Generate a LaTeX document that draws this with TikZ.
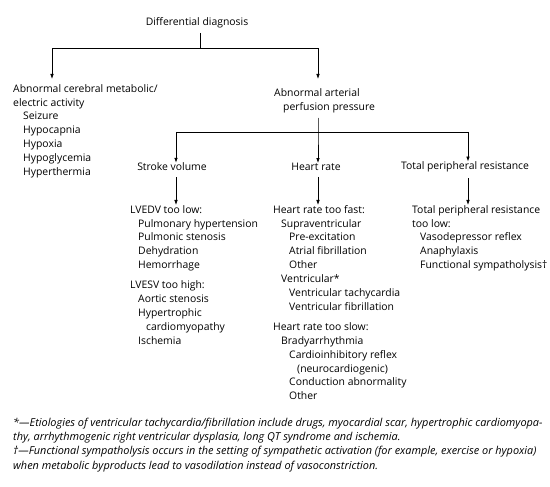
\documentclass[tikz,border=0pt]{standalone}
\usepackage{fontspec}
\setmainfont{Open Sans}
\usetikzlibrary{arrows.meta}
\begin{document}
\begin{tikzpicture}[x=1pt,y=-1pt,
  txt/.style={inner sep=0pt, align=left, anchor=north west, font=\fontsize{10.4}{13.9}\selectfont},
  ctr/.style={inner sep=0pt, anchor=center, font=\fontsize{10.4}{13.9}\selectfont},
  ln/.style={line width=0.8pt},
  arr/.style={line width=0.8pt, -{Latex[length=5pt,width=3.6pt]}},
  fnote/.style={inner sep=0pt, align=left, anchor=north west, font=\fontsize{10.9}{14.2}\selectfont\itshape}]
\useasboundingbox (0,0) rectangle (550,487);
% top
\node[ctr] (dd) at (197,23) {Differential diagnosis};
\coordinate (j1) at (200,48);
\coordinate (a1) at (52,48);
\coordinate (a2) at (318,48);
\node[txt] (cer) at (13,84) {Abnormal cerebral metabolic/\\electric activity\\
\hspace*{10pt}Seizure\\\hspace*{10pt}Hypocapnia\\\hspace*{10pt}Hypoxia\\\hspace*{10pt}Hypoglycemia\\\hspace*{10pt}Hyperthermia};
\node[txt] (app) at (274,88) {Abnormal arterial\\\hspace*{9pt}perfusion pressure};
\draw[ln] (j1 |- 0,33) -- (j1);
\draw[arr] (j1) -| (a1) -- (a1 |- 0,79);
\draw[arr] (j1) -| (a2) -- (a2 |- 0,79);
% second level
\coordinate (j2) at (318,132);
\coordinate (b1) at (176,132);
\coordinate (b3) at (468,132);
\node[ctr] (sv) at (172,167) {Stroke volume};
\node[ctr] (hr) at (316,167) {Heart rate};
\node[ctr] (tpr) at (465,167) {Total peripheral resistance};
\draw[arr] (app.south -| j2) ++(0,5) -- (j2) -- (hr.north -| j2);
\draw[ln] (b1) -- (b3);
\draw[arr] (b1) -- (sv.north -| b1);
\draw[arr] (b3) -- (tpr.north -| b3);
% lists
\node[txt] (svl) at (130,205) {LVEDV too low:\\
\hspace*{8pt}Pulmonary hypertension\\\hspace*{8pt}Pulmonic stenosis\\\hspace*{8pt}Dehydration\\\hspace*{8pt}Hemorrhage\\[6pt]
LVESV too high:\\\hspace*{8pt}Aortic stenosis\\\hspace*{8pt}Hypertrophic\\\hspace*{16pt}cardiomyopathy\\\hspace*{8pt}Ischemia};
\node[txt] (hrl) at (273,205) {Heart rate too fast:\\
\hspace*{8pt}Supraventricular\\\hspace*{16pt}Pre-excitation\\\hspace*{16pt}Atrial fibrillation\\\hspace*{16pt}Other\\
\hspace*{8pt}Ventricular*\\\hspace*{16pt}Ventricular tachycardia\\\hspace*{16pt}Ventricular fibrillation\\[6pt]
Heart rate too slow:\\\hspace*{8pt}Bradyarrhythmia\\\hspace*{16pt}Cardioinhibitory reflex\\\hspace*{24pt}(neurocardiogenic)\\
\hspace*{16pt}Conduction abnormality\\\hspace*{16pt}Other};
\node[txt] (tprl) at (412,205) {Total peripheral resistance\\too low:\\
\hspace*{8pt}Vasodepressor reflex\\\hspace*{8pt}Anaphylaxis\\\hspace*{8pt}Functional sympatholysis†};
\draw[arr] (sv.south -| b1) ++(0,6) -- (svl.north -| b1);
\draw[arr] (hr.south -| j2) ++(0,6) -- (hrl.north -| j2);
\draw[arr] (tpr.south -| b3) ++(0,6) -- (tprl.north -| b3);
% footnotes
\node[fnote] (fn) at (13,418) {*—Etiologies of ventricular tachycardia/fibrillation include drugs, myocardial scar, hypertrophic cardiomyopa-\\
thy, arrhythmogenic right ventricular dysplasia, long QT syndrome and ischemia.\\
†—Functional sympatholysis occurs in the setting of sympathetic activation (for example, exercise or hypoxia)\\
when metabolic byproducts lead to vasodilation instead of vasoconstriction.};
\end{tikzpicture}
\end{document}
